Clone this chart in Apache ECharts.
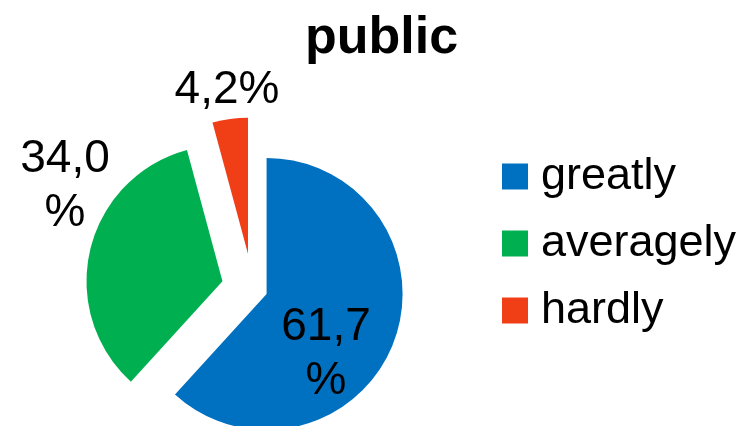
<!DOCTYPE html>
<html>
<head>
<meta charset="utf-8">
<title>public</title>
<script src="https://cdn.jsdelivr.net/npm/echarts@6/dist/echarts.min.js"></script>
<style>
  html, body { margin: 0; padding: 0; background: #fff; }
  #chart { width: 755px; height: 426px; }
</style>
</head>
<body>
<div id="chart"></div>
<script>
// Answer categories and their shares (%)
const categories = ['greatly', 'averagely', 'hardly'];
const shares = [61.7, 34.0, 4.2];

// Slice colours and how far each slice is pulled out of the pie
const sliceColors = ['#0070C0', '#00B050', '#F03E17'];
const explode = [15, 31, 35];
// Where each value label is drawn (centre of the text block)
const labelSpots = [[326, 354], [65, 186], [227, 90]];

const FONT = '"Liberation Sans", Arial, sans-serif';

// Decimal comma, with the % sign wrapped under the wider numbers
function labelText(v) {
  const t = v.toFixed(1).replace('.', ',');
  return v < 10 ? t + '%' : t + '\n%';
}

// One pie layer per slice: every layer lays out the full data set, so the
// angles come from the pie layout, but only its own slice is painted and
// pulled out by its own offset.
const series = categories.map(function (name, i) {
  return {
    type: 'pie',
    center: [252.6, 288.5],
    radius: 136,
    startAngle: 90,
    clockwise: true,
    selectedMode: 'single',
    selectedOffset: explode[i],
    avoidLabelOverlap: false,
    z: 2,
    itemStyle: { borderWidth: 0 },
    emphasis: { disabled: true },
    label: { show: false },
    labelLine: { show: false },
    data: categories.map(function (n, j) {
      const own = j === i;
      return {
        name: n,
        value: shares[j],
        selected: own,
        itemStyle: { color: own ? sliceColors[j] : 'rgba(0,0,0,0)' }
      };
    })
  };
});

// Value labels placed beside / on their slices, above the pie
const valueLabels = shares.map(function (v, i) {
  return {
    type: 'text',
    x: labelSpots[i][0],
    y: labelSpots[i][1],
    z: 100,
    silent: true,
    style: {
      text: labelText(v),
      fill: '#000',
      font: '46px ' + FONT,
      lineHeight: 54,
      align: 'center',
      verticalAlign: 'middle'
    }
  };
});

const chart = echarts.init(document.getElementById('chart'), null, { renderer: 'canvas' });
chart.setOption({
  animation: false,
  backgroundColor: '#fff',
  title: {
    text: 'public',
    left: 305,
    top: 13,
    padding: 0,
    textStyle: {
      fontFamily: FONT,
      fontWeight: 'bold',
      fontSize: 52,
      color: '#000'
    }
  },
  legend: {
    orient: 'vertical',
    left: 502,
    top: 154,
    padding: 0,
    itemWidth: 26,
    itemHeight: 26,
    itemGap: 22,
    selectedMode: false,
    icon: 'rect',
    textStyle: {
      fontFamily: FONT,
      fontSize: 45,
      color: '#000',
      padding: [0, 0, 0, 8]
    },
    data: categories.map(function (n, i) {
      return { name: n, itemStyle: { color: sliceColors[i] } };
    })
  },
  graphic: { elements: valueLabels },
  series: series
});
</script>
</body>
</html>
